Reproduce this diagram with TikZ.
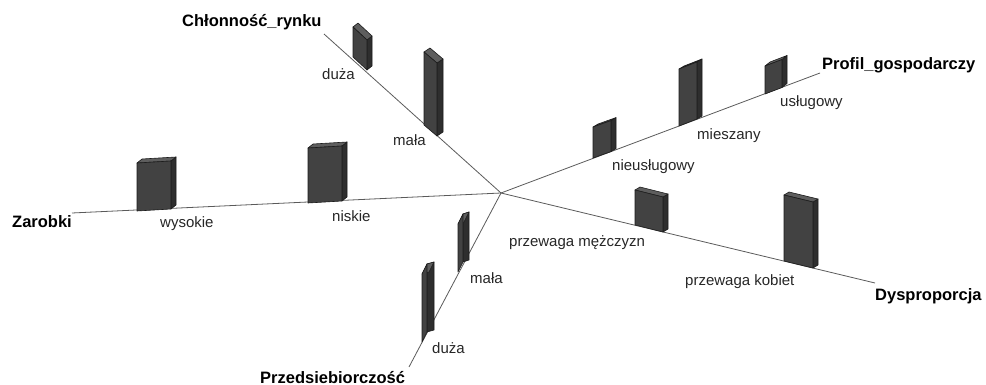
\documentclass[tikz,border=0pt]{standalone}
\usepackage{fontspec}
\setmainfont{Liberation Sans}
\usetikzlibrary{calc}

\definecolor{colfrontc}{HTML}{424242}
\definecolor{coltopc}{HTML}{5E5E5E}
\definecolor{colsidec}{HTML}{2E2E2E}
\definecolor{coledgec}{HTML}{1C1C1C}
\definecolor{axisc}{HTML}{5A5A5A}

\tikzset{
  axisline/.style={draw=axisc, line width=0.8pt},
  colfront/.style={fill=colfrontc, draw=coledgec, line width=0.6pt, line join=round},
  coltop/.style={fill=coltopc, draw=coledgec, line width=0.6pt, line join=round},
  colside/.style={fill=colsidec, draw=coledgec, line width=0.6pt, line join=round},
  catlabel/.style={inner sep=0pt, anchor=base west, text=black!85,
    font=\fontsize{15}{18}\selectfont},
  dimlabel/.style={inner sep=0pt, anchor=base west, text=black,
    font=\bfseries\fontsize{16.5}{20}\selectfont},
}

% A column standing on an axis:
% #1 front-left base, #2 front-right base, #3 height, #4 depth vector
\newcommand\drawcol[4]{%
  \path (#1) coordinate (cA) (#2) coordinate (cB);
  \filldraw[colside] (cB) -- ++(#4) -- ++(0,-#3) -- ($(cB)+(0,-#3)$) -- cycle;
  \filldraw[coltop] ($(cA)+(0,-#3)$) -- ($(cB)+(0,-#3)$) -- ++(#4)
    -- ($(cA)+(0,-#3)+(#4)$) -- cycle;
  \filldraw[colfront] (cA) -- (cB) -- ($(cB)+(0,-#3)$) -- ($(cA)+(0,-#3)$) -- cycle;
}

\begin{document}
\begin{tikzpicture}[x=1pt,y=-1pt]
  \useasboundingbox (0,0) rectangle (986,385);

  % axes meeting in one point
  \coordinate (C) at (501,193);
  \coordinate (eZar) at (72,213);
  \coordinate (eChl) at (324,34);
  \coordinate (ePro) at (820,73);
  \coordinate (eDys) at (875,283);
  \coordinate (ePrz) at (409,367);

  \draw[axisline] (C) -- (eZar);
  \draw[axisline] (C) -- (eChl);
  \draw[axisline] (C) -- (eDys);
  \draw[axisline] (C) -- (ePro);
  \draw[axisline] (C) -- (ePrz);

  % Zarobki
  \drawcol{137,211}{171,209}{48}{5,-4}
  \drawcol{308,203}{342,201}{55}{5,-4}

  % Chlonnosc rynku
  \drawcol{353,57}{367,70}{30}{5,-4}
  \drawcol{424,125}{437,136}{73}{6,-4}

  % Przedsiebiorczosc
  \drawcol{458,272}{463,262}{48}{6,-2}
  \drawcol{422,342}{427,332}{68}{7,-2}

  % Profil gospodarczy
  \drawcol{593,158}{611,151.6}{31}{5,-3}
  \drawcol{679,126}{697,119}{57}{5,-3}
  \drawcol{765,94}{782,87.5}{28}{5,-4}

  % Dysproporcja
  \drawcol{635,225}{663,232}{35}{5,-3}
  \drawcol{784,261}{813,268}{66}{5,-3}

  % category labels
  \node[catlabel] (lWys) at (160,227) {wysokie};
  \node[catlabel] (lNis) at (332,222) {niskie};
  \node[catlabel] (lChlD) at (322,80) {duża};
  \node[catlabel] (lChlM) at (393,146) {mała};
  \node[catlabel] (lPrzM) at (470,283) {mała};
  \node[catlabel] (lPrzD) at (432,353) {duża};
  \node[catlabel] (lNieu) at (612,171) {nieusługowy};
  \node[catlabel] (lMies) at (697,140) {mieszany};
  \node[catlabel] (lUslu) at (780,107) {usługowy};
  \node[catlabel] (lMez) at (509,247) {przewaga mężczyzn};
  \node[catlabel] (lKob) at (685,285) {przewaga kobiet};

  % dimension names
  \node[dimlabel] (tZar) at (12,228) {Zarobki};
  \node[dimlabel] (tChl) at (182,27) {Chłonność\_rynku};
  \node[dimlabel] (tPro) at (822,70) {Profil\_gospodarczy};
  \node[dimlabel] (tDys) at (875,300) {Dysproporcja};
  \node[dimlabel] (tPrz) at (260,383) {Przedsiebiorczość};
\end{tikzpicture}
\end{document}
